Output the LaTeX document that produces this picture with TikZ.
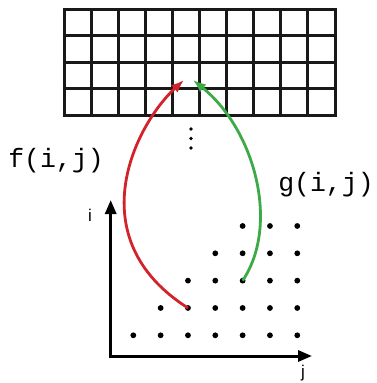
\documentclass[tikz,border=0pt]{standalone}
\usepackage{fontspec}
\setmainfont{Liberation Sans}
\newfontfamily\codefont{Liberation Mono}
\usetikzlibrary{arrows.meta}
\definecolor{fred}{RGB}{210,35,42}
\definecolor{ggreen}{RGB}{60,170,70}
\tikzset{
  gridline/.style={line width=3pt, draw=black!90},
  axis/.style={line width=3pt, -{Triangle[length=14pt,width=11pt]}},
  dotmark/.style={circle, fill=black, inner sep=0pt, minimum size=5.8pt},
  fcurve/.style={line width=2.8pt, draw=fred, -{Latex[length=13pt,width=10pt]}},
  gcurve/.style={line width=2.8pt, draw=ggreen, -{Latex[length=13pt,width=10pt]}},
  codelabel/.style={font=\codefont\fontsize{26.5}{28}\selectfont, inner sep=0pt},
  axlabel/.style={font=\fontsize{17}{19}\selectfont, inner sep=0pt},
}
\begin{document}
\begin{tikzpicture}[x=1pt,y=-1pt]
\useasboundingbox (0,0) rectangle (376,383);
% grid
\foreach \k in {0,...,10}{
  \draw[gridline] ({64+27.1*\k},9) -- ({64+27.1*\k},115);
}
\foreach \r in {0,...,4}{
  \draw[gridline] (62.5,{9+26.5*\r}) -- (336.5,{9+26.5*\r});
}
\coordinate (ftip) at (184,80);
\coordinate (gtip) at (193,80);
% vertical dots
\foreach \yy in {129,138.5,148}{
  \fill (191,\yy) circle (1.8pt);
}
% axes
\coordinate (O) at (110.7,356);
\coordinate (yend) at (110.7,200);
\coordinate (xend) at (312,356);
\draw[axis] (O) -- (yend);
\draw[axis] ([xshift=-1.5pt]O) -- (xend);
\node[axlabel] (ilab) at (90,215) {i};
\node[axlabel] (jlab) at (303,373) {j};
% dots
\foreach \row/\first in {1/1,2/2,3/3,4/4,5/5}{
  \foreach \col in {\first,...,7}{
    \node[dotmark] (d\row\col) at ({133.3+27.33*(\col-1)},{335.3-27.33*(\row-1)}) {};
  }
}
% curves
\draw[fcurve] (d23.center) .. controls (78,238) and (135,125) .. (ftip);
\draw[gcurve] (d35.center) .. controls (280,225) and (255,130) .. (gtip);
% labels
\node[codelabel] (flab) at (56,161) {f(i,j)};
\node[codelabel] (glab) at (326,185) {g(i,j)};
\end{tikzpicture}
\end{document}
